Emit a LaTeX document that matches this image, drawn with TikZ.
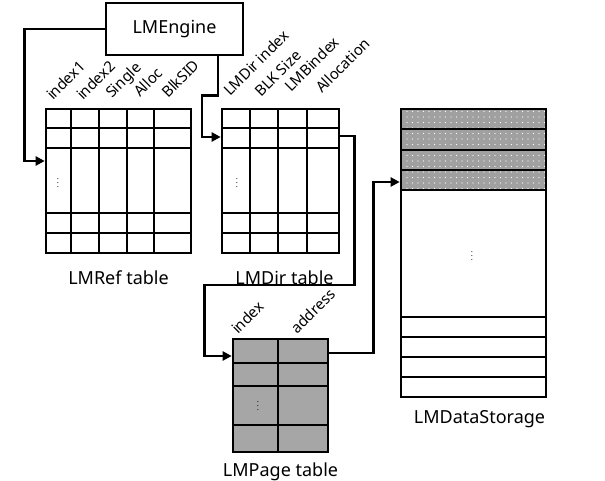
\documentclass[tikz,border=0pt]{standalone}
\usepackage{fontspec}
\setmainfont{Noto Sans}
\usetikzlibrary{positioning,arrows.meta,patterns.meta}
\definecolor{pagegray}{HTML}{A6A6A6}
\definecolor{storegray}{HTML}{A0A0A0}
\begin{document}
\begin{tikzpicture}[x=1pt,y=-1pt,
    tab/.style={draw, line width=2.6pt, inner sep=0pt},
    rule/.style={line width=2.6pt},
    link/.style={line width=2.6pt, -{Triangle[length=9pt,width=9pt]}},
    colhead/.style={rotate=45, anchor=base west, inner sep=0pt,
        font=\fontsize{15}{15}\selectfont},
    caption/.style={inner sep=0pt, font=\fontsize{18}{20}\selectfont},
    vdots/.style={inner sep=0pt, font=\fontsize{8}{8}\selectfont},
    stored/.style={fill=storegray, postaction={pattern={Dots[radius=0.7pt,
        distance=5.5pt]}, pattern color=white}}]
\useasboundingbox (0,0) rectangle (605,480);

\node[tab, fill=white, minimum width=137pt, minimum height=52pt,
    font=\fontsize{18}{20}\selectfont](engine)at(174.5,29){LMEngine};

%LMRef table
\node[tab, minimum width=145pt, minimum height=144pt](reftab)at(118.5,181){};
\foreach \x in {71,99,127,154}
    \draw[rule](\x,109)--(\x,253);
\foreach \y in {128,148,213,233}
    \draw[rule](46,\y)--(191,\y);
\node[vdots](refdots)at(58,180){$\vdots$};
\node[colhead](hidxa)at(53,101){index1};
\node[colhead](hidxb)at(83,101){index2};
\node[colhead](hsingle)at(112,99){Single};
\node[colhead](halloc)at(140,98){Alloc};
\node[colhead](hblk)at(168,99){BlkSID};
\node[caption, below=16pt of reftab](refcap){LMRef table};

%LMDir table
\node[tab, minimum width=117pt, minimum height=144pt](dirtab)at(280.5,181){};
\foreach \x in {250,278,307}
    \draw[rule](\x,109)--(\x,253);
\foreach \y in {128,148,213,233}
    \draw[rule](222,\y)--(339,\y);
\node[vdots](dirdots)at(237,180){$\vdots$};
\node[colhead](hdiridx)at(230,97){LMDir index};
\node[colhead](hsize)at(261,98){BLK Size};
\node[colhead](hbidx)at(291,93){LMBindex};
\node[colhead](hallocation)at(322,94){Allocation};
\node[caption, below=16pt of dirtab, xshift=4pt](dircap){LMDir table};

%LMPage table
\node[tab, fill=pagegray, minimum width=95pt, minimum height=113pt](pagetab)
    at(280.5,395.5){};
\draw[rule](278,339)--(278,452);
\foreach \y in {363,386,425}
    \draw[rule](233,\y)--(328,\y);
\node[vdots](pagedots)at(258,403){$\vdots$};
\node[colhead](hpidx)at(238,335){index};
\node[colhead](haddr)at(297,335){address};
\node[caption, below=9pt of pagetab](pagecap){LMPage table};

%LMDataStorage
\path[stored](401,109)rectangle(546,190);
\node[tab, minimum width=145pt, minimum height=288pt](storage)at(473.5,253){};
\foreach \y in {129,150,170,190,317,337,357,377}
    \draw[rule](401,\y)--(546,\y);
\node[vdots](storedots)at(472,253){$\vdots$};
\node[caption, below=12pt of storage, xshift=6pt](storecap){LMDataStorage};

%connectors
\draw[link](engine.west)--++(-80,0)|-([yshift=20pt]reftab.west);
\draw[link]([xshift=43.5pt]engine.south)--++(0,39)--++(-16,0)
    |-([yshift=44pt]dirtab.west);
\draw[link]([yshift=45pt]dirtab.east)--++(14,0)--++(0,149)--++(-150,0)
    |-([yshift=39.5pt]pagetab.west);
\draw[link]([yshift=42.5pt]pagetab.east)--++(44,0)
    |-([yshift=71pt]storage.west);
\end{tikzpicture}
\end{document}
